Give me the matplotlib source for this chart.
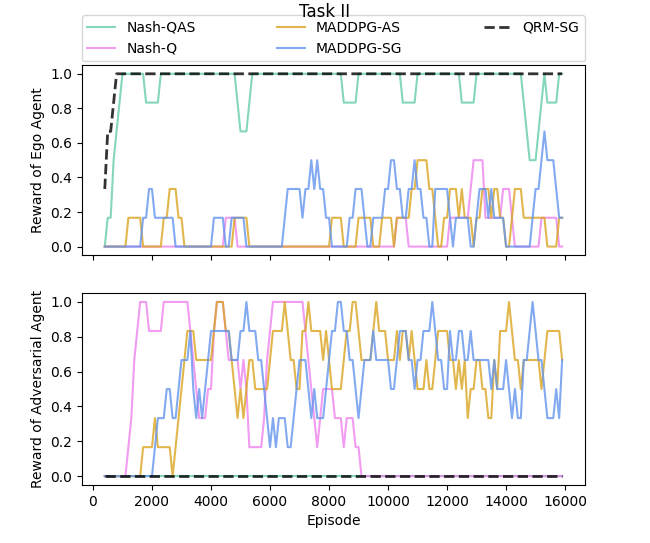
import matplotlib
matplotlib.use("Agg")
import matplotlib.pyplot as plt

# Episodes at which the evaluation was recorded
episodes = list(range(400, 16000, 100))

# Rewards, in units of 1/6 (the chart's values are multiples of 1/6)
ego_nash_qas = [
    0, 1, 1, 3, 4, 5, 6, 6, 6, 6,
    6, 6, 6, 6, 5, 5, 5, 5, 5, 6,
    6, 6, 6, 6, 6, 6, 6, 6, 6, 6,
    6, 6, 6, 6, 6, 6, 6, 6, 6, 6,
    6, 6, 6, 6, 6, 5, 4, 4, 4, 5,
    6, 6, 6, 6, 6, 6, 6, 6, 6, 6,
    6, 6, 6, 6, 6, 6, 6, 6, 6, 6,
    6, 6, 6, 6, 6, 6, 6, 6, 6, 6,
    6, 5, 5, 5, 5, 5, 6, 6, 6, 6,
    6, 6, 6, 6, 6, 6, 6, 6, 6, 6,
    6, 5, 5, 5, 5, 5, 6, 6, 6, 6,
    6, 6, 6, 6, 6, 6, 6, 6, 6, 6,
    6, 5, 5, 5, 5, 5, 6, 6, 6, 6,
    6, 6, 6, 6, 6, 6, 6, 6, 6, 6,
    6, 6, 5, 4, 3, 3, 3, 4, 5, 6,
    5, 5, 5, 5, 6, 6,
]
ego_nash_q = [
    0, 0, 0, 0, 0, 0, 0, 0, 0, 0,
    0, 0, 0, 0, 0, 0, 0, 0, 0, 0,
    0, 0, 0, 0, 0, 0, 0, 0, 0, 0,
    0, 0, 0, 0, 0, 0, 0, 0, 0, 0,
    0, 1, 1, 1, 1, 0, 0, 0, 0, 0,
    0, 0, 0, 0, 0, 0, 0, 0, 0, 0,
    0, 0, 0, 0, 0, 0, 0, 0, 0, 0,
    0, 0, 0, 0, 0, 0, 0, 0, 0, 0,
    0, 0, 0, 0, 0, 0, 0, 0, 0, 0,
    0, 0, 0, 0, 0, 0, 0, 0, 0, 1,
    1, 1, 1, 0, 0, 0, 0, 0, 0, 0,
    0, 0, 0, 0, 0, 0, 0, 1, 1, 1,
    1, 1, 1, 1, 2, 3, 3, 3, 3, 1,
    1, 1, 1, 1, 1, 2, 2, 2, 1, 0,
    0, 0, 0, 0, 0, 0, 0, 0, 1, 1,
    1, 1, 1, 1, 0, 0,
]
ego_maddpg_as = [
    0, 0, 0, 0, 0, 0, 0, 0, 1, 1,
    1, 1, 1, 0, 0, 0, 0, 0, 0, 0,
    1, 1, 2, 2, 2, 1, 1, 0, 0, 0,
    0, 0, 0, 0, 0, 0, 0, 0, 0, 0,
    0, 0, 0, 0, 1, 1, 1, 1, 1, 0,
    0, 0, 0, 0, 0, 0, 0, 0, 0, 0,
    0, 0, 0, 0, 0, 0, 0, 0, 0, 0,
    0, 0, 0, 0, 0, 0, 0, 1, 1, 1,
    1, 0, 0, 0, 0, 0, 1, 1, 1, 1,
    1, 0, 0, 0, 1, 1, 1, 1, 0, 1,
    1, 1, 1, 1, 2, 2, 3, 3, 3, 3,
    2, 2, 1, 0, 0, 1, 1, 2, 2, 2,
    1, 2, 1, 1, 1, 0, 1, 1, 2, 2,
    2, 1, 2, 2, 1, 1, 0, 0, 1, 2,
    2, 2, 1, 1, 1, 1, 1, 1, 1, 1,
    0, 0, 0, 0, 1, 1,
]
ego_maddpg_sg = [
    0, 0, 0, 0, 0, 0, 0, 0, 0, 0,
    0, 0, 0, 1, 1, 2, 2, 1, 1, 1,
    1, 1, 1, 1, 0, 0, 0, 0, 0, 0,
    0, 0, 0, 0, 0, 0, 0, 1, 1, 1,
    1, 0, 0, 1, 1, 1, 1, 1, 0, 0,
    0, 0, 0, 0, 0, 0, 0, 0, 0, 0,
    0, 1, 2, 2, 2, 2, 2, 1, 2, 2,
    3, 2, 3, 2, 2, 1, 1, 0, 0, 0,
    0, 0, 0, 1, 1, 2, 2, 2, 1, 0,
    0, 1, 1, 1, 1, 2, 2, 3, 3, 2,
    2, 1, 1, 2, 2, 3, 2, 2, 1, 1,
    0, 0, 2, 2, 2, 2, 2, 1, 0, 1,
    1, 1, 1, 1, 0, 0, 1, 2, 2, 2,
    1, 2, 1, 1, 1, 1, 0, 0, 0, 0,
    0, 0, 0, 0, 0, 1, 2, 2, 3, 4,
    3, 3, 3, 2, 1, 1,
]
ego_qrm_sg = [
    2, 4, 4, 5, 6, 6, 6, 6, 6, 6,
] + [6] * 146

adv_nash_qas = [0] * 156
adv_nash_q = [
    0, 0, 0, 0, 0, 0, 0, 0, 1, 2,
    4, 5, 6, 6, 6, 5, 5, 5, 5, 5,
    6, 6, 6, 6, 6, 6, 6, 6, 6, 5,
    4, 3, 2, 2, 2, 3, 3, 5, 6, 6,
    6, 5, 4, 4, 4, 4, 3, 4, 3, 1,
    1, 1, 1, 1, 2, 4, 5, 6, 6, 6,
    6, 6, 6, 6, 6, 6, 6, 6, 5, 4,
    3, 2, 1, 2, 3, 3, 3, 3, 2, 2,
    2, 1, 2, 2, 2, 1, 1, 0, 0, 0,
] + [0] * 66
adv_maddpg_as = [
    0, 0, 0, 0, 0, 0, 0, 0, 0, 0,
    0, 0, 0, 1, 1, 1, 1, 2, 1, 1,
    1, 1, 1, 0, 1, 2, 3, 4, 5, 5,
    5, 4, 4, 4, 4, 4, 4, 5, 6, 6,
    6, 5, 5, 4, 3, 2, 3, 2, 3, 4,
    4, 3, 3, 3, 3, 3, 4, 5, 5, 5,
    5, 6, 5, 4, 4, 3, 3, 5, 5, 6,
    5, 5, 5, 5, 4, 5, 4, 3, 3, 3,
    3, 4, 5, 5, 6, 6, 5, 4, 4, 4,
    4, 5, 6, 5, 5, 5, 4, 4, 4, 5,
    4, 5, 5, 4, 5, 4, 3, 3, 3, 4,
    3, 3, 4, 5, 5, 5, 5, 4, 4, 3,
    4, 3, 4, 2, 3, 3, 4, 4, 3, 3,
    2, 2, 4, 3, 5, 5, 5, 6, 5, 4,
    4, 3, 4, 4, 4, 4, 4, 4, 3, 4,
    5, 5, 5, 5, 5, 4,
]
adv_maddpg_sg = [
    0, 0, 0, 0, 0, 0, 0, 0, 0, 0,
    0, 0, 0, 0, 0, 0, 0, 1, 2, 2,
    2, 3, 3, 2, 2, 3, 4, 4, 4, 5,
    3, 2, 3, 2, 3, 4, 5, 5, 5, 5,
    5, 5, 5, 4, 4, 4, 5, 5, 6, 5,
    5, 5, 4, 4, 3, 2, 1, 2, 1, 2,
    2, 2, 1, 1, 2, 3, 4, 4, 4, 3,
    2, 3, 2, 2, 2, 3, 4, 5, 5, 6,
    6, 5, 5, 4, 4, 3, 2, 3, 4, 4,
    4, 5, 4, 4, 4, 4, 4, 3, 3, 4,
    5, 5, 5, 4, 4, 3, 4, 4, 5, 5,
    5, 6, 5, 4, 4, 3, 3, 5, 4, 4,
    5, 5, 4, 4, 5, 4, 4, 4, 4, 4,
    4, 3, 4, 3, 3, 3, 4, 3, 2, 3,
    2, 2, 4, 4, 5, 6, 5, 4, 4, 3,
    2, 2, 2, 3, 2, 4,
]
adv_qrm_sg = [0] * 156

method_names = ["Nash-QAS", "Nash-Q", "MADDPG-AS", "MADDPG-SG", "QRM-SG"]
colors = ["mediumaquamarine", "violet", "goldenrod", "cornflowerblue", "black"]
styles = ["-", "-", "-", "-", "--"]
widths = [1.5, 1.5, 1.5, 1.5, 2.0]

ego = [ego_nash_qas, ego_nash_q, ego_maddpg_as, ego_maddpg_sg, ego_qrm_sg]
adv = [adv_nash_qas, adv_nash_q, adv_maddpg_as, adv_maddpg_sg, adv_qrm_sg]


def scale(vals):
    return [v / 6 for v in vals]


fig = plt.figure(figsize=(6.5, 5.43), dpi=100)
ax1 = fig.add_axes([0.126, 0.530, 0.774, 0.350])
ax2 = fig.add_axes([0.126, 0.107, 0.774, 0.353], sharex=ax1)

handles = []
for name, col, ls, lw, e, a in zip(method_names, colors, styles, widths, ego, adv):
    (h,) = ax1.plot(episodes, scale(e), color=col, ls=ls, lw=lw, alpha=0.8, label=name)
    ax2.plot(episodes, scale(a), color=col, ls=ls, lw=lw, alpha=0.8)
    handles.append(h)

ax1.set_ylabel("Reward of Ego Agent")
ax2.set_ylabel("Reward of Adversarial Agent")
ax2.set_xlabel("Episode")
ax1.tick_params(labelbottom=False)
for ax in (ax1, ax2):
    ax.set_yticks([0.0, 0.2, 0.4, 0.6, 0.8, 1.0])
ax2.set_xticks(range(0, 16001, 2000))

ax1.legend(handles=handles, loc="lower left", bbox_to_anchor=(0, 1.02, 1, 0.2),
           mode="expand", ncol=3, fontsize=10, borderaxespad=0)
fig.suptitle("Task II", y=0.995, fontsize=12)

fig.savefig("out.png", dpi=100)
